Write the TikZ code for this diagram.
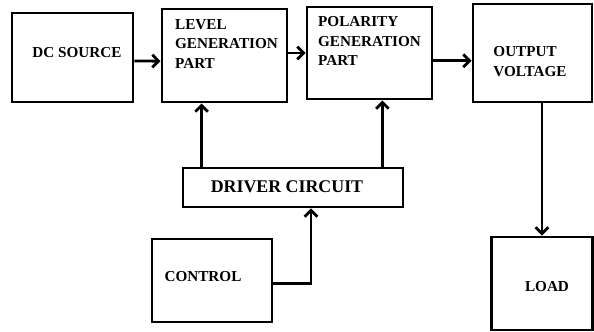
\documentclass[tikz,border=0pt]{standalone}
\usepackage{fontspec}
\setmainfont{Liberation Serif}
\usetikzlibrary{calc,arrows.meta}
\begin{document}
\begin{tikzpicture}[x=0.025cm,y=-0.025cm,
	blk/.style={draw,line width=2pt,inner sep=0pt},
	lbl/.style={font=\bfseries\fontsize{10.8}{14.2}\selectfont,align=left,inner sep=0pt},
	wire/.style={line width=2pt,-{Straight Barb[length=4.5pt,width=9pt,line width=2pt]}}]

		\useasboundingbox (0,0) rectangle (594,331);

		\node (DC) at (72.5,57.5) [blk,minimum width=121*0.025cm,minimum height=89*0.025cm] {};
		\node (LVL) at (224.5,55.5) [blk,minimum width=125*0.025cm,minimum height=93*0.025cm] {};
		\node (POL) at (369.5,53) [blk,minimum width=125*0.025cm,minimum height=92*0.025cm] {};
		\node (OUT) at (532.5,53) [blk,minimum width=119*0.025cm,minimum height=98*0.025cm] {};
		\node (DRV) at (293,187.5) [blk,minimum width=220*0.025cm,minimum height=39*0.025cm] {};
		\node (CTL) at (212,280.5) [blk,minimum width=120*0.025cm,minimum height=83*0.025cm] {};
		\node (LOAD) at (542,283.5) [blk,minimum width=101*0.025cm,minimum height=93*0.025cm] {};

		\node (DCT) at (77,53) [lbl] {DC SOURCE};
		\node (LVLT) at (226.5,44) [lbl] {LEVEL\\GENERATION\\PART};
		\node (POLT) at (369.5,41) [lbl] {POLARITY\\GENERATION\\PART};
		\node (OUTT) at (530,62) [lbl] {OUTPUT\\VOLTAGE};
		\node (DRVT) at (287,187) [lbl,font=\bfseries\fontsize{12.7}{15}\selectfont] {DRIVER CIRCUIT};
		\node (CTLT) at (203,277) [lbl] {CONTROL};
		\node (LOADT) at (547,287) [lbl] {LOAD};

		\coordinate (D1) at ($(DRV.north west)+(20,0)$);
		\coordinate (D2) at ($(DRV.north east)+(-22,0)$);
		\coordinate (C1) at ($(DRV.south)+(18,0)$);

		\draw [wire] ([yshift=-2.5pt]DC.east) -- ([yshift=-4pt]LVL.west);
		\draw [wire] (LVL.east |- POL.west) -- (POL.west);
		\draw [wire] ([yshift=-5.5pt]POL.east) -- ([yshift=-5.5pt]OUT.west);
		\draw [wire] (LOAD.north |- OUT.south) -- (LOAD.north);
		\draw [wire] (D1) -- (D1 |- LVL.south);
		\draw [wire] (D2) -- (D2 |- POL.south);
		\draw [wire] ([yshift=-2pt]CTL.east) -| (C1);

		\end{tikzpicture}
\end{document}
